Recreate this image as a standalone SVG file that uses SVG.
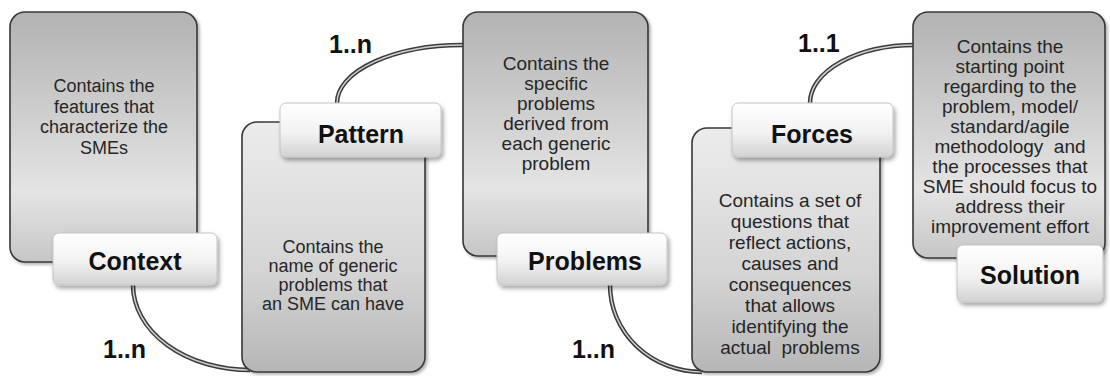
<svg xmlns="http://www.w3.org/2000/svg" width="1110" height="376" viewBox="0 0 1110 376">
<style>
.box{stroke:#383838;stroke-width:1.6}
.top{fill:url(#gTop)}
.bot{fill:url(#gBot)}
.lab{fill:url(#gLab);stroke:#c4c4c4;stroke-width:1;filter:url(#sh)}
.desc{font-family:"Liberation Sans",Arial,sans-serif;fill:#262626;text-anchor:middle}
.name{font-family:"Liberation Sans",Arial,sans-serif;font-weight:bold;font-size:25px;fill:#111;text-anchor:middle}
.card{font-family:"Liberation Sans",Arial,sans-serif;font-weight:bold;font-size:25px;fill:#111}
.tube{fill:none;stroke:#3c3c3c;stroke-width:4.5}
.core{fill:none;stroke:#d0d0d0;stroke-width:1.5}
</style>
<defs>
<linearGradient id="gTop" x1="0" y1="0" x2="0" y2="1">
<stop offset="0" stop-color="#b2b2b2"/>
<stop offset="0.72" stop-color="#e4e4e4"/>
<stop offset="1" stop-color="#c6c6c6"/>
</linearGradient>
<linearGradient id="gBot" x1="0" y1="0" x2="0" y2="1">
<stop offset="0" stop-color="#ececec"/>
<stop offset="0.6" stop-color="#d4d4d4"/>
<stop offset="1" stop-color="#b6b6b6"/>
</linearGradient>
<linearGradient id="gLab" x1="0" y1="0" x2="0" y2="1">
<stop offset="0" stop-color="#ffffff"/>
<stop offset="0.55" stop-color="#f2f2f2"/>
<stop offset="1" stop-color="#d2d2d2"/>
</linearGradient>
<filter id="sh" x="-10%" y="-10%" width="125%" height="135%">
<feDropShadow dx="2" dy="3" stdDeviation="2" flood-color="#000" flood-opacity="0.35"/>
</filter>
<filter id="bsh" x="-5%" y="-5%" width="115%" height="115%">
<feDropShadow dx="2" dy="2" stdDeviation="1.5" flood-color="#000" flood-opacity="0.3"/>
</filter>
</defs>

<g id="connectors">
<path id="c1" class="tube" d="M133,285 A117,85 0 0 0 250,370"/>
<path class="core" d="M133,285 A117,85 0 0 0 250,370"/>
<path id="c2" class="tube" d="M337,103 A126,58 0 0 1 465,45"/>
<path class="core" d="M337,103 A126,58 0 0 1 465,45"/>
<path id="c3" class="tube" d="M610,285 A92,87 0 0 0 702,372"/>
<path class="core" d="M610,285 A92,87 0 0 0 702,372"/>
<path id="c4" class="tube" d="M810,103 A105,58 0 0 1 915,45"/>
<path class="core" d="M810,103 A105,58 0 0 1 915,45"/>
<text class="card" x="103" y="358">1..n</text>
<text class="card" x="329" y="53">1..n</text>
<text class="card" x="572" y="358">1..n</text>
<text class="card" x="798" y="52">1..1</text>
</g>

<g id="context">
<rect class="box top" x="10" y="12" width="187" height="250" rx="15" filter="url(#bsh)"/>
<text class="desc" font-size="18" x="104"><tspan x="104" y="92">Contains the</tspan><tspan x="104" y="112.5">features that</tspan><tspan x="104" y="133">characterize the</tspan><tspan x="104" y="153.5">SMEs</tspan></text>
<rect class="lab" x="53" y="233" width="164" height="52" rx="6"/>
<text class="name" x="135" y="270">Context</text>
</g>

<g id="pattern">
<rect class="box bot" x="242" y="122" width="183" height="250" rx="15" filter="url(#bsh)"/>
<text class="desc" font-size="18" x="333"><tspan x="333" y="253">Contains the</tspan><tspan x="333" y="272">name of generic</tspan><tspan x="333" y="291">problems that</tspan><tspan x="333" y="310">an SME can have</tspan></text>
<rect class="lab" x="280" y="103" width="161" height="54" rx="6"/>
<text class="name" x="361" y="143">Pattern</text>
</g>

<g id="problems">
<rect class="box top" x="463" y="12" width="185" height="244" rx="15" filter="url(#bsh)"/>
<text class="desc" font-size="19" x="556"><tspan x="556" y="70">Contains the</tspan><tspan x="556" y="90">specific</tspan><tspan x="556" y="110">problems</tspan><tspan x="556" y="130">derived from</tspan><tspan x="556" y="150">each generic</tspan><tspan x="556" y="170">problem</tspan></text>
<rect class="lab" x="497" y="233" width="170" height="52" rx="6"/>
<text class="name" x="585" y="270">Problems</text>
</g>

<g id="forces">
<rect class="box bot" x="692" y="128" width="188" height="244" rx="15" filter="url(#bsh)"/>
<text class="desc" font-size="19" x="790"><tspan x="790" y="207">Contains a set of</tspan><tspan x="790" y="228">questions that</tspan><tspan x="790" y="249">reflect actions,</tspan><tspan x="790" y="270">causes and</tspan><tspan x="790" y="291">consequences</tspan><tspan x="790" y="312">that allows</tspan><tspan x="790" y="333">identifying the</tspan><tspan x="790" y="354" xml:space="preserve">actual  problems</tspan></text>
<rect class="lab" x="732" y="103" width="161" height="54" rx="6"/>
<text class="name" x="812" y="143">Forces</text>
</g>

<g id="solution">
<rect class="box top" x="913" y="12" width="192" height="246" rx="15" filter="url(#bsh)"/>
<text class="desc" font-size="19" x="1010"><tspan x="1010" y="53">Contains the</tspan><tspan x="1010" y="73">starting point</tspan><tspan x="1010" y="93">regarding to the</tspan><tspan x="1010" y="113">problem, model/</tspan><tspan x="1010" y="133">standard/agile</tspan><tspan x="1010" y="153" xml:space="preserve">methodology  and</tspan><tspan x="1010" y="173">the processes that</tspan><tspan x="1010" y="193">SME should focus to</tspan><tspan x="1010" y="213">address their</tspan><tspan x="1010" y="233">improvement effort</tspan></text>
<rect class="lab" x="957" y="245" width="146" height="57" rx="6"/>
<text class="name" x="1030" y="284">Solution</text>
</g>
</svg>
